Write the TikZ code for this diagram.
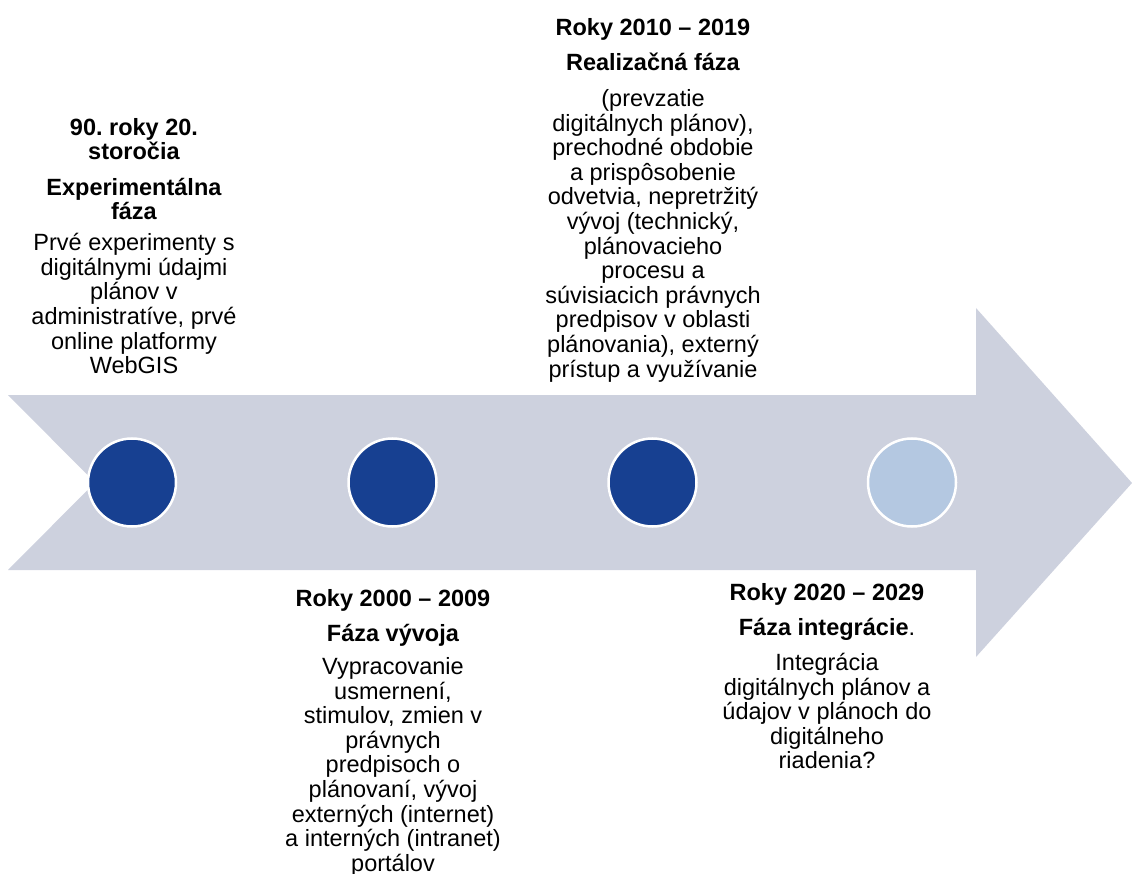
\documentclass[tikz,border=0pt]{standalone}
\usepackage{fontspec}
\setmainfont{Liberation Sans}
\frenchspacing
\definecolor{arrowgray}{HTML}{CDD1DE}
\definecolor{darkdot}{HTML}{174091}
\definecolor{lightdot}{HTML}{B4C8E1}
\tikzset{
  dot/.style={circle, draw=white, line width=2.5pt, minimum size=88pt, inner sep=0pt},
  darkdotstyle/.style={dot, fill=darkdot},
  lightdotstyle/.style={dot, fill=lightdot},
  textblock/.style={anchor=north, inner sep=0pt, align=center,
    font=\fontsize{23.5}{24.6}\selectfont}
}
\begin{document}
\begin{tikzpicture}[x=1pt,y=-1pt]
\useasboundingbox (0,0) rectangle (1132,874);
\fill[arrowgray] (8,395) -- (976,395) -- (976,308) -- (1132,483) -- (976,657) -- (976,570) -- (8,570) -- (95,482.5) -- cycle;
\node[darkdotstyle] (c1) at (132,482.5) {};
\node[darkdotstyle] (c2) at (392.5,482.5) {};
\node[darkdotstyle] (c3) at (652.5,482.5) {};
\node[lightdotstyle] (c4) at (912,482.5) {};

\node[textblock] (t1) at (134,118) {\textbf{90. roky 20.}\\\textbf{storočia}\\[11pt]
\textbf{Experimentálna}\\[-1pt]\textbf{fáza}\\[7pt]
Prvé experimenty s\\digitálnymi údajmi\\plánov v\\administratíve, prvé\\online platformy\\WebGIS};

\node[textblock] (t3) at (653,18) {\textbf{Roky 2010 – 2019}\\[11pt]
\textbf{Realizačná fáza}\\[11pt]
(prevzatie\\digitálnych plánov),\\prechodné obdobie\\a prispôsobenie\\odvetvia, nepretržitý\\vývoj (technický,\\plánovacieho\\procesu a\\súvisiacich právnych\\predpisov v oblasti\\plánovania), externý\\prístup a využívanie};

\node[textblock] (t2) at (393,589) {\textbf{Roky 2000 – 2009}\\[11pt]
\textbf{Fáza vývoja}\\[8pt]
Vypracovanie\\usmernení,\\stimulov, zmien v\\právnych\\predpisoch o\\plánovaní, vývoj\\externých (internet)\\a interných (intranet)\\portálov};

\node[textblock] (t4) at (827,583) {\textbf{Roky 2020 – 2029}\\[11pt]
\textbf{Fáza integrácie}.\\[10pt]
Integrácia\\digitálnych plánov a\\údajov v plánoch do\\digitálneho\\riadenia?};
\end{tikzpicture}
\end{document}
